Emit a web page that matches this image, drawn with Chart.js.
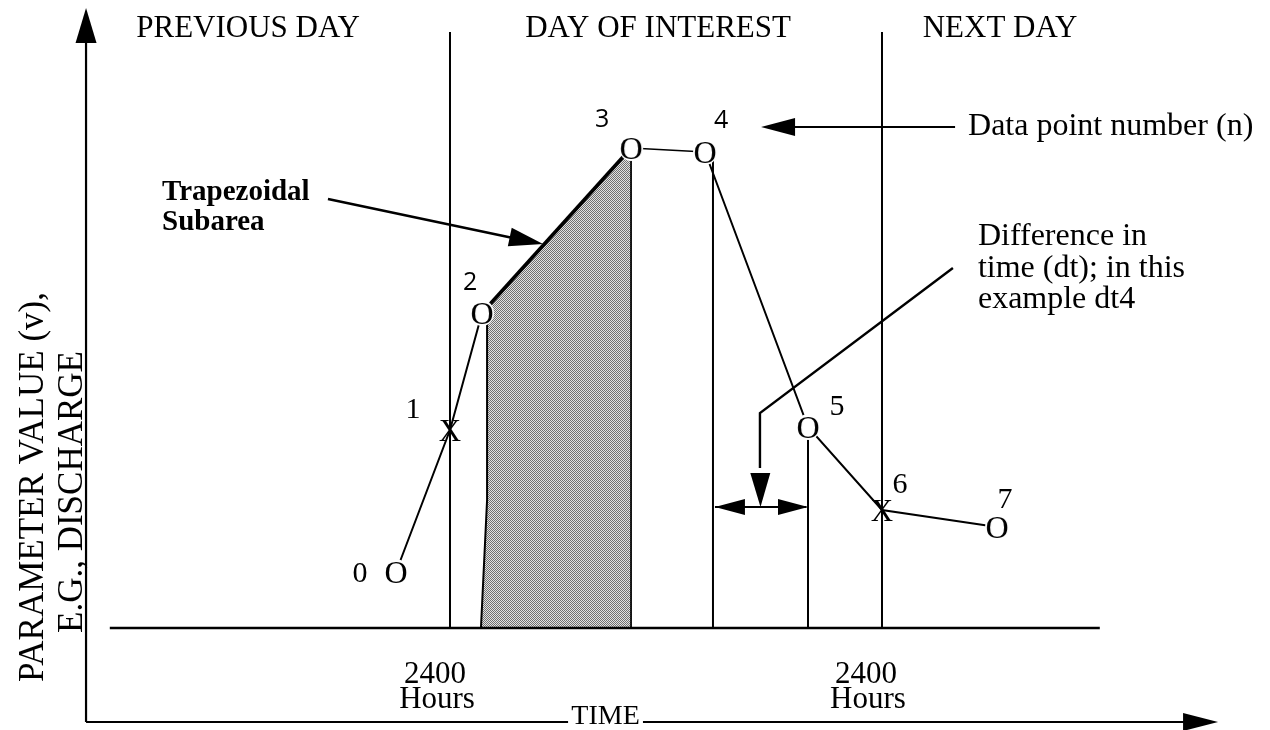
<!DOCTYPE html>
<html><head><meta charset="utf-8">
<style>html,body{margin:0;padding:0;background:#fff;}canvas{display:block;}</style>
<script src="https://cdn.jsdelivr.net/npm/chart.js@4"></script>
</head><body>
<canvas id="c" width="1270" height="730"></canvas>
<script>
// ---------------- data (time in hours after 2400 of previous day, value in arbitrary units) ----------------
const pointNumbers = ['0','1','2','3','4','5','6','7'];
const pointTimes   = [-3.0, 0.0, 1.78, 10.06, 14.17, 19.89, 24.0, 30.39];
const pointValues  = [1.12, 3.96, 6.30, 9.60, 9.52, 4.02, 2.36, 2.02];
const pointKinds   = ['O','X','O','O','O','O','X','O'];   // O = observation, X = value at 2400 hours
const dayBoundaryTimes = [0, 24];
const dayBoundaryTop   = 11.92;
const tickLabels    = ['2400','2400'];
const tickSubLabels = ['Hours','Hours'];
const periodLabels  = ['PREVIOUS DAY','DAY OF INTEREST','NEXT DAY'];
const periodCenters = [-11.22, 11.56, 30.56];
const dropLineTimes = [14.61, 19.89];     // verticals at points 4 and 5 (bounding dt4)
const dropLineTops  = [9.40, 3.82];
const subareaTimes  = [1.72, 2.06, 2.06, 10.06, 10.06];
const subareaValues = [0.00, 2.56, 6.41, 9.60, 0.00];
const baselineRange = [-18.9, 36.1];

const X_MIN = -25, X_MAX = 45.556, Y_MIN = -2.04, Y_MAX = 12.56;
const SERIF = '"Liberation Serif","Times New Roman",Times,serif';
const SANS  = '"Open Sans","DejaVu Sans",sans-serif';

// ---------------- helpers ----------------
const cv = document.getElementById('c');
const ctx0 = cv.getContext('2d');
function stipple(){
  const t = document.createElement('canvas'); t.width = 2; t.height = 2;
  const g = t.getContext('2d');
  g.fillStyle = '#e2e2e2'; g.fillRect(0,0,2,2);
  g.fillStyle = '#707070'; g.fillRect(0,0,1,1); g.fillRect(1,1,1,1);
  return ctx0.createPattern(t,'repeat');
}
function glyph(ch, font, w, h, white){
  const c = document.createElement('canvas'); c.width = w; c.height = h;
  const g = c.getContext('2d');
  if (white){ g.fillStyle = '#fff'; g.beginPath(); g.ellipse(w/2, h/2, w/2-1, h/2-1, 0, 0, Math.PI*2); g.fill(); }
  g.fillStyle = '#000'; g.font = font; g.textAlign = 'center'; g.textBaseline = 'alphabetic';
  g.fillText(ch, w/2, h/2 + 10.5);
  return c;
}
const markO = glyph('O', '32px ' + SERIF, 26, 28, true);
const markX = glyph('X', '31px ' + SERIF, 26, 28, false);

function seg(points, width){
  return { type:'scatter', showLine:true, data: points.map(p => ({x:p[0], y:p[1]})),
           borderColor:'#000', borderWidth: width || 2, pointRadius:0, fill:false, order:5, clip:false };
}

// ---------------- datasets ----------------
const datasets = [];
// main data series
datasets.push({
  type:'scatter', showLine:true, order:0, clip:false,
  data: pointTimes.map((t,i) => ({x:t, y:pointValues[i]})),
  borderColor:'#000', borderWidth:2,
  segment:{ borderWidth: c => (c.p0DataIndex === 2 ? 3.6 : (c.p0DataIndex === 3 ? 1.6 : 2)) },
  pointStyle: pointKinds.map(k => k === 'O' ? markO : markX),
  pointRadius: 10
});
// trapezoidal subarea
datasets.push({
  type:'scatter', showLine:true, order:9, clip:false,
  data: subareaTimes.map((t,i) => ({x:t, y:subareaValues[i]})),
  borderWidth:0, borderColor:'rgba(0,0,0,0)', pointRadius:0,
  backgroundColor: stipple(), fill:'origin'
});
datasets.push(seg([[subareaTimes[0],0],[subareaTimes[1],subareaValues[1]],[subareaTimes[2],subareaValues[2]-0.2]], 2));
datasets.push(seg([[subareaTimes[3],subareaValues[3]-0.2],[subareaTimes[4],0]], 1));
// baseline
datasets.push(seg([[baselineRange[0],0],[baselineRange[1],0]], 2.5));
// day boundaries
dayBoundaryTimes.forEach(t => datasets.push(seg([[t,0],[t,dayBoundaryTop]], 2)));
// drop lines at points 4 and 5
dropLineTimes.forEach((t,i) => datasets.push(seg([[t,0],[t,dropLineTops[i]]], 2)));
// frame axes
const AX_T = -20.22, AX_V = -1.88;
datasets.push(seg([[AX_T,AX_V],[AX_T,11.8]], 2.2));
datasets.push(seg([[AX_T,AX_V],[6.56,AX_V]], 2.2));
datasets.push(seg([[10.72,AX_V],[41.0,AX_V]], 2.2));
// annotation arrows (shafts)
datasets.push(seg([[28.06,10.02],[19.0,10.02]], 2));
datasets.push(seg([[-6.78,8.58],[3.5,7.80]], 2.6));
datasets.push(seg([[14.72,2.42],[19.80,2.42]], 2));
datasets.push(seg([[27.94,7.20],[17.22,4.30],[17.22,3.2]], 2.4));

// arrowheads: tip and direction source, in data units; length / half width in px
const arrowHeads = [
  {from:[28.06,10.02], tip:[17.28,10.02], len:34, half:9},
  {from:[-6.78,8.58],  tip:[5.17,7.68],   len:34, half:9.5},
  {from:[17.25,2.42],  tip:[14.72,2.42],  len:30, half:8},
  {from:[17.25,2.42],  tip:[19.89,2.42],  len:30, half:8},
  {from:[17.22,4.30],  tip:[17.25,2.42],  len:34, half:10},
  {from:[AX_T,0],      tip:[AX_T,12.40],  len:35, half:10.5},
  {from:[30,AX_V],     tip:[42.67,AX_V],  len:35, half:9}
];

// texts (positions in data units)
const texts = [
  {s:periodLabels[0], x:periodCenters[0], y:11.82, f:'31px '+SERIF, a:'center'},
  {s:periodLabels[1], x:periodCenters[1], y:11.82, f:'31px '+SERIF, a:'center'},
  {s:periodLabels[2], x:periodCenters[2], y:11.82, f:'31px '+SERIF, a:'center'},
  {s:'Data point number (n)', x:28.78, y:9.86, f:'32px '+SERIF, a:'left'},
  {s:'Trapezoidal', x:-16.0, y:8.56, f:'bold 29px '+SERIF, a:'left'},
  {s:'Subarea',     x:-16.0, y:7.96, f:'bold 29px '+SERIF, a:'left'},
  {s:'Difference in',        x:29.33, y:7.66, f:'32px '+SERIF, a:'left'},
  {s:'time (dt); in this',   x:29.33, y:7.02, f:'32px '+SERIF, a:'left'},
  {s:'example dt4',          x:29.33, y:6.40, f:'32px '+SERIF, a:'left'},
  {s:tickLabels[0],    x:-0.83, y:-1.10, f:'31px '+SERIF, a:'center'},
  {s:tickSubLabels[0], x:-0.72, y:-1.60, f:'31px '+SERIF, a:'center'},
  {s:tickLabels[1],    x:23.11, y:-1.10, f:'31px '+SERIF, a:'center'},
  {s:tickSubLabels[1], x:23.22, y:-1.60, f:'31px '+SERIF, a:'center'},
  {s:'TIME', x:8.64, y:-1.92, f:'28px '+SERIF, a:'center'},
  {s:'PARAMETER VALUE (v),', x:-22.6, y:2.82, f:'35px '+SERIF, a:'center', rot:true},
  {s:'E.G., DISCHARGE',      x:-20.44, y:2.72, f:'35px '+SERIF, a:'center', rot:true}
];
// point number labels: offset in px from each point, font per label
const numberOffsets = [[-36,10],[-37,-12],[-12,-23],[-29,-21],[16,-24],[29,-12],[18,-17],[8,-19]];
const numberFonts = ['30px '+SERIF,'30px '+SERIF,'25px '+SANS,'25px '+SANS,'25px '+SANS,'30px '+SERIF,'30px '+SERIF,'30px '+SERIF];

const annot = {
  id:'annot',
  afterDatasetsDraw(chart){
    const {ctx, scales:{x, y}} = chart;
    ctx.save();
    ctx.fillStyle = '#000';
    arrowHeads.forEach(a => {
      const fx = x.getPixelForValue(a.from[0]), fy = y.getPixelForValue(a.from[1]);
      const tx = x.getPixelForValue(a.tip[0]),  ty = y.getPixelForValue(a.tip[1]);
      const ang = Math.atan2(ty-fy, tx-fx);
      ctx.save(); ctx.translate(tx, ty); ctx.rotate(ang);
      ctx.beginPath(); ctx.moveTo(0,0); ctx.lineTo(-a.len, -a.half); ctx.lineTo(-a.len, a.half); ctx.closePath(); ctx.fill();
      ctx.restore();
    });
    ctx.textBaseline = 'alphabetic';
    texts.forEach(t => {
      const px = x.getPixelForValue(t.x), py = y.getPixelForValue(t.y);
      ctx.font = t.f; ctx.textAlign = t.a;
      if (t.rot){ ctx.save(); ctx.translate(px, py); ctx.rotate(-Math.PI/2); ctx.fillText(t.s, 0, 0); ctx.restore(); }
      else ctx.fillText(t.s, px, py);
    });
    const meta = chart.getDatasetMeta(0);
    ctx.textAlign = 'center';
    meta.data.forEach((pt, i) => {
      ctx.font = numberFonts[i];
      ctx.fillText(pointNumbers[i], pt.x + numberOffsets[i][0], pt.y + numberOffsets[i][1]);
    });
    ctx.restore();
  }
};

new Chart(cv, {
  type:'scatter',
  data:{ datasets },
  options:{
    responsive:false, animation:false, events:[],
    layout:{ padding:0, autoPadding:false },
    plugins:{ legend:{display:false}, tooltip:{enabled:false} },
    scales:{
      x:{ type:'linear', display:false, min:X_MIN, max:X_MAX },
      y:{ type:'linear', display:false, min:Y_MIN, max:Y_MAX }
    }
  },
  plugins:[annot]
});
</script>
</body></html>
